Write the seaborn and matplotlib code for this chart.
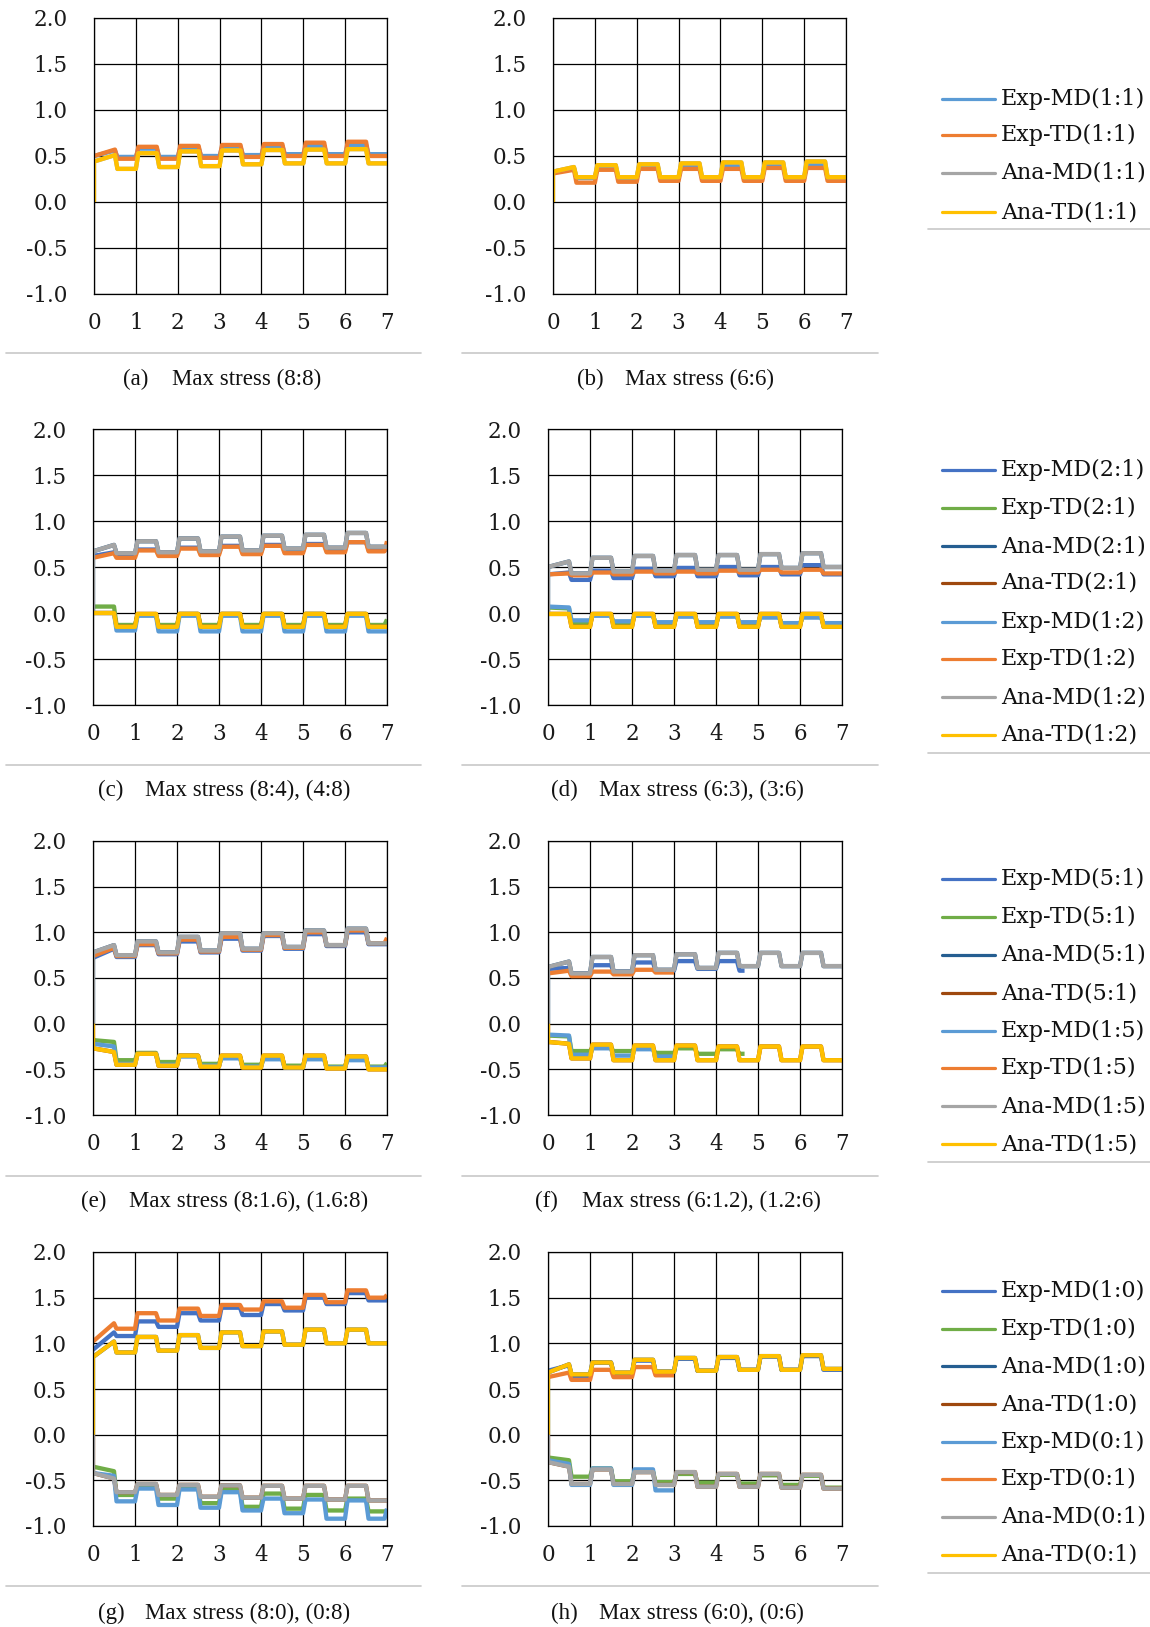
import matplotlib
matplotlib.use("Agg")
import matplotlib.pyplot as plt
from matplotlib.lines import Line2D
import seaborn as sns

# ---------------- data (levels) ----------------
# each list: [value at x=0, high1, low1, high2, low2, ..., high7, low7]
cycles = [0, 1, 2, 3, 4, 5, 6, 7]
y_ticks = [-1.0, -0.5, 0.0, 0.5, 1.0, 1.5, 2.0]

# (a) Max stress (8:8)
a_exp_md = [0.50, 0.56, 0.49, 0.58, 0.49, 0.59, 0.50, 0.60, 0.51, 0.61, 0.52, 0.61, 0.52, 0.62, 0.52]
a_exp_td = [0.50, 0.57, 0.47, 0.60, 0.47, 0.61, 0.48, 0.62, 0.49, 0.63, 0.50, 0.645, 0.50, 0.655, 0.50]
a_ana = [0.44, 0.51, 0.36, 0.53, 0.38, 0.55, 0.39, 0.56, 0.41, 0.565, 0.42, 0.57, 0.42, 0.575, 0.42]
# (b) Max stress (6:6)
b_exp_md = [0.33, 0.37, 0.26, 0.38, 0.26, 0.39, 0.26, 0.39, 0.26, 0.40, 0.26, 0.40, 0.26, 0.40, 0.26]
b_exp_td = [0.31, 0.35, 0.21, 0.35, 0.22, 0.36, 0.23, 0.36, 0.23, 0.36, 0.23, 0.37, 0.23, 0.37, 0.23]
b_ana = [0.33, 0.38, 0.27, 0.40, 0.27, 0.41, 0.27, 0.42, 0.27, 0.43, 0.27, 0.43, 0.27, 0.44, 0.27]
# (c) Max stress (8:4), (4:8)
c_exp_md_21 = [0.62, 0.66, 0.63, 0.69, 0.64, 0.71, 0.65, 0.73, 0.66, 0.74, 0.67, 0.75, 0.68, 0.77, 0.69]
c_exp_td_12 = [0.60, 0.65, 0.60, 0.68, 0.62, 0.70, 0.63, 0.72, 0.64, 0.73, 0.65, 0.74, 0.66, 0.77, 0.67]
c_exp_td_12_tail = 0.78
c_ana_up = [0.67, 0.74, 0.65, 0.78, 0.66, 0.81, 0.67, 0.83, 0.68, 0.84, 0.70, 0.85, 0.71, 0.87, 0.72]
c_exp_td_21 = [0.07, 0.07, -0.13, -0.02, -0.13, -0.01, -0.13, -0.01, -0.13, -0.01, -0.13, -0.01, -0.13, -0.01, -0.13]
c_exp_td_21_tail = -0.07
c_exp_md_12 = [0.00, 0.00, -0.19, -0.03, -0.20, -0.03, -0.20, -0.03, -0.20, -0.03, -0.20, -0.03, -0.20, -0.03, -0.20]
c_ana_lo = [0.00, 0.00, -0.15, -0.01, -0.15, -0.01, -0.15, -0.01, -0.15, -0.01, -0.15, -0.01, -0.15, -0.01, -0.15]
# (d) Max stress (6:3), (3:6)
d_exp_md_21 = [0.42, 0.44, 0.36, 0.46, 0.38, 0.48, 0.40, 0.49, 0.40, 0.50, 0.41, 0.50, 0.42, 0.52, 0.42]
d_exp_td_12 = [0.42, 0.43, 0.41, 0.44, 0.42, 0.45, 0.43, 0.45, 0.43, 0.46, 0.44, 0.47, 0.44, 0.47, 0.43]
d_ana_up = [0.50, 0.56, 0.43, 0.60, 0.45, 0.62, 0.46, 0.63, 0.47, 0.63, 0.47, 0.64, 0.49, 0.65, 0.50]
d_exp_td_21 = [0.06, 0.05, -0.12, -0.02, -0.12, -0.02, -0.13, -0.03, -0.13, -0.03, -0.13, -0.03, -0.13, -0.04, -0.13]
d_exp_md_12 = [0.07, 0.06, -0.08, -0.03, -0.09, -0.03, -0.10, -0.04, -0.10, -0.04, -0.10, -0.05, -0.11, -0.05, -0.11]
d_ana_lo = [-0.01, -0.01, -0.15, -0.01, -0.15, -0.01, -0.15, -0.01, -0.15, -0.01, -0.15, -0.01, -0.15, -0.01, -0.15]
# (e) Max stress (8:1.6), (1.6:8)
e_exp_md_51 = [0.72, 0.82, 0.73, 0.86, 0.76, 0.90, 0.78, 0.93, 0.80, 0.96, 0.82, 0.98, 0.85, 1.00, 0.87]
e_exp_td_15 = [0.74, 0.83, 0.74, 0.87, 0.77, 0.92, 0.79, 0.95, 0.81, 0.97, 0.83, 1.00, 0.86, 1.02, 0.88]
e_exp_td_15_tail = 0.94
e_ana_up = [0.78, 0.86, 0.75, 0.90, 0.78, 0.95, 0.80, 0.99, 0.82, 0.99, 0.84, 1.02, 0.86, 1.04, 0.88]
e_exp_td_51 = [-0.18, -0.20, -0.40, -0.32, -0.42, -0.35, -0.44, -0.36, -0.45, -0.37, -0.46, -0.37, -0.47, -0.38, -0.47]
e_exp_td_51_tail = -0.43
e_exp_md_15 = [-0.22, -0.25, -0.44, -0.33, -0.45, -0.36, -0.46, -0.38, -0.47, -0.39, -0.48, -0.39, -0.48, -0.40, -0.48]
e_ana_lo = [-0.27, -0.31, -0.45, -0.33, -0.46, -0.35, -0.47, -0.35, -0.48, -0.35, -0.48, -0.35, -0.49, -0.36, -0.50]
# (f) Max stress (6:1.2), (1.2:6)
f_exp_md_51 = [0.60, 0.61, 0.55, 0.64, 0.57, 0.67, 0.58, 0.685, 0.60, 0.685, 0.58]
f_exp_md_51_end = 4.68
f_exp_td_15 = [0.55, 0.58, 0.52, 0.57, 0.54, 0.59, 0.56]
f_exp_td_15_end = 3.05
f_ana_up = [0.62, 0.68, 0.55, 0.73, 0.57, 0.75, 0.59, 0.76, 0.61, 0.775, 0.63, 0.775, 0.63, 0.775, 0.63]
f_exp_td_51 = [-0.13, -0.14, -0.30, -0.26, -0.30, -0.27, -0.32, -0.27, -0.33, -0.28, -0.33]
f_exp_td_51_end = 4.68
f_exp_md_15 = [-0.12, -0.13, -0.34, -0.27, -0.35, -0.28, -0.36]
f_exp_md_15_end = 3.05
f_ana_lo = [-0.20, -0.22, -0.38, -0.23, -0.40, -0.24, -0.40, -0.24, -0.40, -0.25, -0.40, -0.25, -0.40, -0.25, -0.40]
# (g) Max stress (8:0), (0:8)
g_exp_md_10 = [0.93, 1.12, 1.08, 1.24, 1.18, 1.33, 1.25, 1.39, 1.31, 1.43, 1.36, 1.50, 1.43, 1.55, 1.47]
g_exp_td_01 = [1.02, 1.22, 1.16, 1.33, 1.25, 1.38, 1.30, 1.42, 1.37, 1.46, 1.39, 1.53, 1.45, 1.58, 1.50]
g_exp_td_01_tail = 1.53
g_ana_up = [0.85, 1.02, 0.90, 1.07, 0.92, 1.09, 0.95, 1.12, 0.97, 1.13, 0.985, 1.15, 1.00, 1.15, 1.00]
g_exp_td_10 = [-0.35, -0.40, -0.66, -0.55, -0.70, -0.57, -0.75, -0.60, -0.79, -0.645, -0.81, -0.66, -0.83, -0.70, -0.84]
g_exp_md_01 = [-0.42, -0.45, -0.73, -0.59, -0.77, -0.60, -0.80, -0.63, -0.83, -0.70, -0.86, -0.71, -0.92, -0.72, -0.92]
g_exp_md_01_tail = -0.81
g_ana_lo = [-0.42, -0.48, -0.63, -0.54, -0.66, -0.55, -0.68, -0.555, -0.69, -0.56, -0.70, -0.56, -0.71, -0.56, -0.72]
# (h) Max stress (6:0), (0:6)
h_exp_md_10 = [0.70, 0.76, 0.64, 0.79, 0.67, 0.81, 0.69, 0.83, 0.70, 0.84, 0.71, 0.855, 0.71, 0.86, 0.71]
h_exp_td_01 = [0.63, 0.68, 0.60, 0.71, 0.63, 0.74, 0.65]
h_exp_td_01_end = 3.05
h_ana_up = [0.68, 0.77, 0.66, 0.79, 0.68, 0.82, 0.69, 0.84, 0.70, 0.85, 0.71, 0.86, 0.71, 0.87, 0.72]
h_exp_td_10 = [-0.25, -0.28, -0.46, -0.37, -0.51, -0.40, -0.52, -0.43, -0.525, -0.44, -0.535, -0.445, -0.55, -0.45, -0.58]
h_exp_md_01 = [-0.28, -0.32, -0.55, -0.37, -0.55, -0.38, -0.61]
h_exp_md_01_end = 3.05
h_ana_lo = [-0.30, -0.35, -0.54, -0.38, -0.54, -0.41, -0.55, -0.41, -0.57, -0.43, -0.57, -0.43, -0.58, -0.44, -0.59]

captions = ["Max stress (8:8)", "Max stress (6:6)", "Max stress (8:4), (4:8)", "Max stress (6:3), (3:6)",
            "Max stress (8:1.6), (1.6:8)", "Max stress (6:1.2), (1.2:6)", "Max stress (8:0), (0:8)",
            "Max stress (6:0), (0:6)"]
panel_tags = ["(a)", "(b)", "(c)", "(d)", "(e)", "(f)", "(g)", "(h)"]
legend_row1 = ["Exp-MD(1:1)", "Exp-TD(1:1)", "Ana-MD(1:1)", "Ana-TD(1:1)"]
legend_rows = [["Exp-MD(2:1)", "Exp-TD(2:1)", "Ana-MD(2:1)", "Ana-TD(2:1)",
                "Exp-MD(1:2)", "Exp-TD(1:2)", "Ana-MD(1:2)", "Ana-TD(1:2)"],
               ["Exp-MD(5:1)", "Exp-TD(5:1)", "Ana-MD(5:1)", "Ana-TD(5:1)",
                "Exp-MD(1:5)", "Exp-TD(1:5)", "Ana-MD(1:5)", "Ana-TD(1:5)"],
               ["Exp-MD(1:0)", "Exp-TD(1:0)", "Ana-MD(1:0)", "Ana-TD(1:0)",
                "Exp-MD(0:1)", "Exp-TD(0:1)", "Ana-MD(0:1)", "Ana-TD(0:1)"]]

# ---------------- styles ----------------
C_BLUE = "#4472C4"; C_GREEN = "#70AD47"; C_DBLUE = "#255E91"; C_BROWN = "#9E480E"
C_LBLUE = "#5B9BD5"; C_ORANGE = "#ED7D31"; C_GRAY = "#A5A5A5"; C_YELLOW = "#FFC000"
colors4 = [C_LBLUE, C_ORANGE, C_GRAY, C_YELLOW]
colors8 = [C_BLUE, C_GREEN, C_DBLUE, C_BROWN, C_LBLUE, C_ORANGE, C_GRAY, C_YELLOW]

HOLD = 0.5   # half-cycle hold
RAMP = 0.06  # transition width
LW = 3.1


def cycle_path(levels, from_zero=False, end=None, tail=None):
    xs, ys = [], []
    if from_zero:
        xs.append(cycles[0]); ys.append(0.0)
    xs.append(cycles[0]); ys.append(levels[0])
    pairs = levels[1:]
    n = len(pairs) // 2
    for k in range(n):
        hi, lo = pairs[2 * k], pairs[2 * k + 1]
        x0 = cycles[k]
        if k > 0:
            xs.append(x0 + RAMP); ys.append(hi)
        xs.append(x0 + HOLD); ys.append(hi)
        xs.append(x0 + HOLD + RAMP); ys.append(lo)
        xs.append(cycles[k + 1]); ys.append(lo)
    if tail is not None:
        xs[-1] = xs[-1] - RAMP
        xs.append(cycles[n]); ys.append(tail)
    if end is not None:
        nx, ny = [], []
        for i, (x, y) in enumerate(zip(xs, ys)):
            if x <= end:
                nx.append(x); ny.append(y)
            else:
                px, py = xs[i - 1], ys[i - 1]
                t = (end - px) / (x - px) if x != px else 0
                nx.append(end); ny.append(py + t * (y - py))
                break
        xs, ys = nx, ny
    return xs, ys


# series per panel in legend (draw) order: (levels, color, from_zero, end, tail)
panels = [
    [(a_exp_md, C_LBLUE, False, None, None), (a_exp_td, C_ORANGE, False, None, None),
     (a_ana, C_GRAY, True, None, None), (a_ana, C_YELLOW, True, None, None)],
    [(b_exp_md, C_LBLUE, False, None, None), (b_exp_td, C_ORANGE, False, None, None),
     (b_ana, C_GRAY, True, None, None), (b_ana, C_YELLOW, True, None, None)],
    [(c_exp_md_21, C_BLUE, False, None, None), (c_exp_td_21, C_GREEN, False, None, c_exp_td_21_tail),
     (c_ana_up, C_DBLUE, True, None, None), (c_ana_lo, C_BROWN, False, None, None),
     (c_exp_md_12, C_LBLUE, False, None, None), (c_exp_td_12, C_ORANGE, False, None, c_exp_td_12_tail),
     (c_ana_up, C_GRAY, True, None, None), (c_ana_lo, C_YELLOW, False, None, None)],
    [(d_exp_md_21, C_BLUE, False, None, None), (d_exp_td_21, C_GREEN, False, None, None),
     (d_ana_up, C_DBLUE, True, None, None), (d_ana_lo, C_BROWN, False, None, None),
     (d_exp_md_12, C_LBLUE, False, None, None), (d_exp_td_12, C_ORANGE, False, None, None),
     (d_ana_up, C_GRAY, True, None, None), (d_ana_lo, C_YELLOW, False, None, None)],
    [(e_exp_md_51, C_BLUE, False, None, None), (e_exp_td_51, C_GREEN, False, None, e_exp_td_51_tail),
     (e_ana_up, C_DBLUE, True, None, None), (e_ana_lo, C_BROWN, True, None, None),
     (e_exp_md_15, C_LBLUE, False, None, None), (e_exp_td_15, C_ORANGE, False, None, e_exp_td_15_tail),
     (e_ana_up, C_GRAY, True, None, None), (e_ana_lo, C_YELLOW, True, None, None)],
    [(f_exp_md_51, C_BLUE, False, f_exp_md_51_end, None), (f_exp_td_51, C_GREEN, False, f_exp_td_51_end, None),
     (f_ana_up, C_DBLUE, True, None, None), (f_ana_lo, C_BROWN, True, None, None),
     (f_exp_md_15, C_LBLUE, False, f_exp_md_15_end, None), (f_exp_td_15, C_ORANGE, False, f_exp_td_15_end, None),
     (f_ana_up, C_GRAY, True, None, None), (f_ana_lo, C_YELLOW, True, None, None)],
    [(g_exp_md_10, C_BLUE, False, None, None), (g_exp_td_10, C_GREEN, False, None, None),
     (g_ana_up, C_DBLUE, True, None, None), (g_ana_lo, C_BROWN, True, None, None),
     (g_exp_md_01, C_LBLUE, False, None, g_exp_md_01_tail), (g_exp_td_01, C_ORANGE, False, None, g_exp_td_01_tail),
     (g_ana_lo, C_GRAY, True, None, None), (g_ana_up, C_YELLOW, True, None, None)],
    [(h_exp_md_10, C_BLUE, False, None, None), (h_exp_td_10, C_GREEN, False, None, None),
     (h_ana_up, C_DBLUE, True, None, None), (h_ana_lo, C_BROWN, True, None, None),
     (h_exp_md_01, C_LBLUE, False, h_exp_md_01_end, None), (h_exp_td_01, C_ORANGE, False, h_exp_td_01_end, None),
     (h_ana_lo, C_GRAY, True, None, None), (h_ana_up, C_YELLOW, True, None, None)],
]

# ---------------- figure ----------------
sns.set_style("white")
plt.rcParams["font.family"] = ["DejaVu Serif"]
plt.rcParams["axes.unicode_minus"] = False

W, H = 1150, 1627
fig = plt.figure(figsize=(W / 100, H / 100), dpi=100)


def fx(px):
    return px / W


def fy(py):
    return 1 - py / H


row_tb = [(18, 294), (429, 705), (841, 1115), (1252, 1526)]
col_lr = [[(94, 387), (553, 846)], [(93, 387), (548, 842)], [(93, 387), (548, 842)], [(93, 387), (548, 842)]]

for idx, series in enumerate(panels):
    r, c = divmod(idx, 2)
    top, bot = row_tb[r]
    left, right = col_lr[r][c]
    ax = fig.add_axes([fx(left), fy(bot), (right - left) / W, (bot - top) / H])
    for levels, color, fz, end, tail in series:
        xs, ys = cycle_path(levels, fz, end, tail)
        sns.lineplot(x=xs, y=ys, ax=ax, color=color, linewidth=LW, sort=False,
                     estimator=None, legend=False)
    for ln in ax.get_lines():
        ln.set_solid_joinstyle("round")
        ln.set_solid_capstyle("butt")
    ax.set_xlim(cycles[0], cycles[-1])
    ax.set_ylim(y_ticks[0], y_ticks[-1])
    ax.set_xticks(cycles)
    ax.set_xticklabels([str(v) for v in cycles])
    ax.set_yticks(y_ticks)
    ax.set_yticklabels([f"{v:.1f}" for v in y_ticks])
    ax.grid(True, color="black", linewidth=0.9)
    ax.set_axisbelow(True)
    for s in ax.spines.values():
        s.set_visible(True)
        s.set_color("black")
        s.set_linewidth(0.9)
    ax.tick_params(axis="x", length=0, pad=13, labelsize=15.5, colors="#1a1a1a")
    ax.tick_params(axis="y", length=0, pad=19, labelsize=15.5, colors="#1a1a1a")
    ax.set_xlabel(""); ax.set_ylabel("")

# captions
cap_pos = [(123, 172, 379), (577, 625, 379), (98, 145, 790), (551, 599, 790),
           (81, 129, 1201), (535, 582, 1201), (98, 145, 1613), (551, 599, 1613)]
for (lx, mx, cy), tag, cap in zip(cap_pos, panel_tags, captions):
    fig.text(fx(lx), fy(cy), tag, ha="left", va="center", fontsize=16.5,
             family="Liberation Serif", color="#111111")
    fig.text(fx(mx), fy(cy), cap, ha="left", va="center", fontsize=16.5,
             family="Liberation Serif", color="#111111")

# separators
SEP = "#C8C8C8"
sep_rows = [353, 765, 1176, 1586]
for yy in sep_rows:
    fig.add_artist(Line2D([fx(6), fx(421)], [fy(yy), fy(yy)], color=SEP, lw=1.2))
    fig.add_artist(Line2D([fx(462), fx(878)], [fy(yy), fy(yy)], color=SEP, lw=1.2))

# legends
leg_y = [[99, 135, 173, 212],
         [470, 508, 546, 583, 622, 659, 697, 735],
         [879, 917, 955, 993, 1031, 1068, 1106, 1144],
         [1291, 1329, 1366, 1404, 1442, 1479, 1517, 1555]]
leg_sep = [229, 753, 1162, 1573]
leg_labels = [legend_row1] + legend_rows
leg_colors = [colors4, colors8, colors8, colors8]
for ys_, labs, cols, sy in zip(leg_y, leg_labels, leg_colors, leg_sep):
    for yy, lab, col in zip(ys_, labs, cols):
        fig.add_artist(Line2D([fx(942), fx(995)], [fy(yy), fy(yy)], color=col, lw=2.3,
                              solid_capstyle="round"))
        fig.text(fx(1001), fy(yy), lab, ha="left", va="center", fontsize=16, color="#111111")
    fig.add_artist(Line2D([fx(928), fx(1150)], [fy(sy), fy(sy)], color=SEP, lw=1.2))

fig.savefig("out.png", dpi=100, facecolor="white")
